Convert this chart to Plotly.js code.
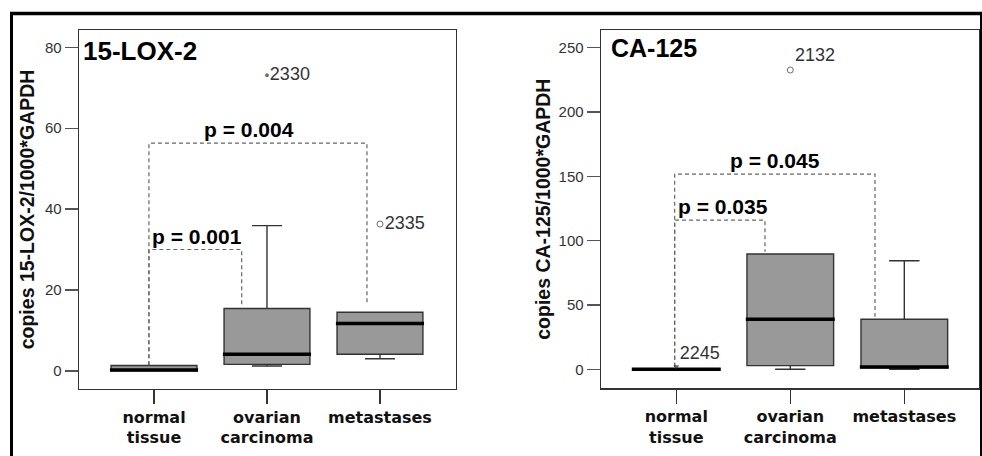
<!DOCTYPE html>
<html>
<head>
<meta charset="utf-8">
<script src="https://cdn.plot.ly/plotly-3.0.1.min.js"></script>
<style>html,body{margin:0;padding:0;background:#fff;}#chart{width:982px;height:456px;}</style>
</head>
<body>
<div id="chart"></div>
<script>
// ---------- data ----------
const categories = ['normal<br>tissue', 'ovarian<br>carcinoma', 'metastases'];
const catIndex = [0, 1, 2];

// 15-LOX-2 (copies / 1000*GAPDH)
const loxQ1 = [0, 1.6, 4.1];
const loxMedian = [0.2, 4.1, 11.7];
const loxQ3 = [1.3, 15.4, 14.5];
const loxLow = [0, 1.2, 3.0];
const loxHigh = [1.3, 35.9, 14.5];
const loxOutX = [1, 2];
const loxOutY = [73.1, 36.3];
const loxOutLabels = ['2330', '2335'];
const loxTicks = [0, 20, 40, 60, 80];
// significance brackets
const loxBrLabels = ['p = 0.001', 'p = 0.004'];
const loxBrY = [30.0, 56.3];
const loxBrX0 = [-0.045, -0.045];
const loxBrX1 = [0.776, 1.885];
const loxBrEnd0 = [1.4, 1.4];
const loxBrEnd1 = [15.8, 16.3];

// CA-125 (copies / 1000*GAPDH)
const caQ1 = [0, 2.8, 1.2];
const caMedian = [0, 38.9, 1.8];
const caQ3 = [0.5, 89.6, 38.9];
const caLow = [0, 0, 0];
const caHigh = [0.5, 89.6, 84.4];
const caOutX = [0, 1];
const caOutY = [2, 232.7];
const caOutLabels = ['2245', '2132'];
const caTicks = [0, 50, 100, 150, 200, 250];
const caBrLabels = ['p = 0.035', 'p = 0.045'];
const caBrY = [116, 151.8];
const caBrX0 = [-0.014, -0.014];
const caBrX1 = [0.778, 1.743];
const caBrEnd0 = [2, 2];
const caBrEnd1 = [91.4, 40.9];

// ---------- styling ----------
const W = 982, H = 456;
const BOX_W = 0.76, MED_HALF = 0.39;
const FRAME = '#333333';
const BOXFILL = '#999999';
const TXT = '#333333';
const px = v => v / W;
const py = v => 1 - v / H;

function boxTrace(q1, med, q3, lo, hi, xa, ya) {
  return {
    type: 'box', x: catIndex, q1: q1, median: med, q3: q3,
    lowerfence: lo, upperfence: hi, boxpoints: false,
    width: BOX_W, whiskerwidth: 0.35,
    fillcolor: BOXFILL, line: {color: FRAME, width: 1.4},
    xaxis: xa, yaxis: ya, hoverinfo: 'skip'
  };
}
function medianTrace(med, xa, ya) {
  const xs = [], ys = [];
  med.forEach((m, i) => { xs.push(catIndex[i] - MED_HALF, catIndex[i] + MED_HALF, null); ys.push(m, m, null); });
  return {type: 'scatter', mode: 'lines', x: xs, y: ys, line: {color: '#000', width: 3.5},
          xaxis: xa, yaxis: ya, hoverinfo: 'skip'};
}
function bracketTrace(by, x0, x1, e0, e1, xa, ya) {
  const xs = [], ys = [];
  by.forEach((b, i) => { xs.push(x0[i], x0[i], x1[i], x1[i], null); ys.push(e0[i], b, b, e1[i], null); });
  return {type: 'scatter', mode: 'lines', x: xs, y: ys,
          line: {color: '#666666', width: 1.2, dash: '4px,3px'}, xaxis: xa, yaxis: ya, hoverinfo: 'skip'};
}
function outlierTrace(ox, oy, labels, symbols, sizes, pos, xa, ya) {
  return {type: 'scatter', mode: 'markers+text', x: ox, y: oy, text: labels,
          textposition: pos, textfont: {family: 'Liberation Sans, Arial', size: 18, color: TXT},
          marker: {symbol: symbols, size: sizes, color: TXT, line: {color: TXT, width: 1}},
          cliponaxis: false, xaxis: xa, yaxis: ya, hoverinfo: 'skip'};
}
function bracketLabels(lbls, by, x0, x1, xr, yr, shifts) {
  return lbls.map((t, i) => ({
    text: t, x: (x0[i] + x1[i]) / 2, y: by[i], xref: xr, yref: yr,
    xanchor: 'center', yanchor: 'bottom', showarrow: false, yshift: 0, xshift: shifts[i],
    font: {family: 'Liberation Sans, Arial', size: 21, color: '#000', weight: 'bold'}
  }));
}

const data = [
  boxTrace(loxQ1, loxMedian, loxQ3, loxLow, loxHigh, 'x', 'y'),
  medianTrace(loxMedian, 'x', 'y'),
  bracketTrace(loxBrY, loxBrX0, loxBrX1, loxBrEnd0, loxBrEnd1, 'x', 'y'),
  outlierTrace(loxOutX, loxOutY, loxOutLabels, ['circle', 'circle-open'], [3, 6], ['middle right', 'middle right'], 'x', 'y'),
  boxTrace(caQ1, caMedian, caQ3, caLow, caHigh, 'x2', 'y2'),
  medianTrace(caMedian, 'x2', 'y2'),
  bracketTrace(caBrY, caBrX0, caBrX1, caBrEnd0, caBrEnd1, 'x2', 'y2'),
  outlierTrace(caOutX, caOutY, caOutLabels, ['triangle-down', 'circle-open'], [4, 6], ['top right', 'top right'], 'x2', 'y2')
];

const tickFont = {family: 'Liberation Sans, Arial', size: 15, color: '#333'};
const catFont = {family: 'DejaVu Sans', size: 16, color: '#111', weight: 'bold'};
const titleFont = {family: 'Liberation Sans, Arial', size: 19.5, color: '#111', weight: 'bold'};

function xAxis(dom, rng, anchor) {
  return {domain: dom, range: rng, anchor: anchor, tickmode: 'array', tickvals: catIndex, ticktext: categories,
          ticks: 'outside', ticklen: 14, tickwidth: 1.4, tickcolor: FRAME, showline: true, mirror: true,
          linecolor: FRAME, linewidth: 1.4, showgrid: false, zeroline: false, tickfont: catFont,
          ticklabelstandoff: -1, fixedrange: true};
}
function yAxis(dom, rng, ticks, anchor, title, standoff) {
  return {domain: dom, range: rng, anchor: anchor, tickmode: 'array', tickvals: ticks,
          ticks: 'outside', ticklen: 13, tickwidth: 1.4, tickcolor: '#555', showline: true, mirror: true,
          linecolor: FRAME, linewidth: 1.4, showgrid: false, zeroline: false, tickfont: tickFont,
          title: {text: title, font: titleFont, standoff: standoff}, automargin: false, fixedrange: true};
}

const layout = {
  width: W, height: H, margin: {l: 0, r: 0, t: 0, b: 0},
  paper_bgcolor: '#fff', plot_bgcolor: '#fff', showlegend: false,
  xaxis: xAxis([px(79), px(456)], [-0.664, 2.673], 'y'),
  yaxis: yAxis([py(389), py(30)], [-4.5, 84.3], loxTicks, 'x', 'copies 15-LOX-2/1000*GAPDH', 5),
  xaxis2: xAxis([px(601), px(979)], [-0.66, 2.655], 'y2'),
  yaxis2: yAxis([py(388.3), py(30)], [-14.8, 263.8], caTicks, 'x2', 'copies CA-125/1000*GAPDH', 2),
  annotations: [
    {text: '15-LOX-2', xref: 'x domain', yref: 'y domain', x: 0.006, y: 0.9415, xanchor: 'left', yanchor: 'middle',
     showarrow: false, font: {family: 'Liberation Sans, Arial', size: 26, color: '#000', weight: 'bold'}},
    {text: 'CA-125', xref: 'x2 domain', yref: 'y2 domain', x: 0.022, y: 0.95, xanchor: 'left', yanchor: 'middle',
     showarrow: false, font: {family: 'Liberation Sans, Arial', size: 25, color: '#000', weight: 'bold'}}
  ].concat(bracketLabels(loxBrLabels, loxBrY, loxBrX0, loxBrX1, 'x', 'y', [2, -9]))
   .concat(bracketLabels(caBrLabels, caBrY, caBrX0, caBrX1, 'x2', 'y2', [3, 0])),
  shapes: [
    {type: 'line', xref: 'paper', yref: 'paper', x0: px(10), x1: 1, y0: py(13.5), y1: py(13.5), line: {color: '#000', width: 3.5}},
    {type: 'line', xref: 'paper', yref: 'paper', x0: px(11.5), x1: px(11.5), y0: py(12), y1: 0, line: {color: '#000', width: 3}},
    {type: 'line', xref: 'paper', yref: 'paper', x0: px(981), x1: px(981), y0: py(12), y1: 0, line: {color: '#000', width: 2}}
  ]
};

Plotly.newPlot('chart', data, layout, {staticPlot: true, displayModeBar: false});
</script>
</body>
</html>
